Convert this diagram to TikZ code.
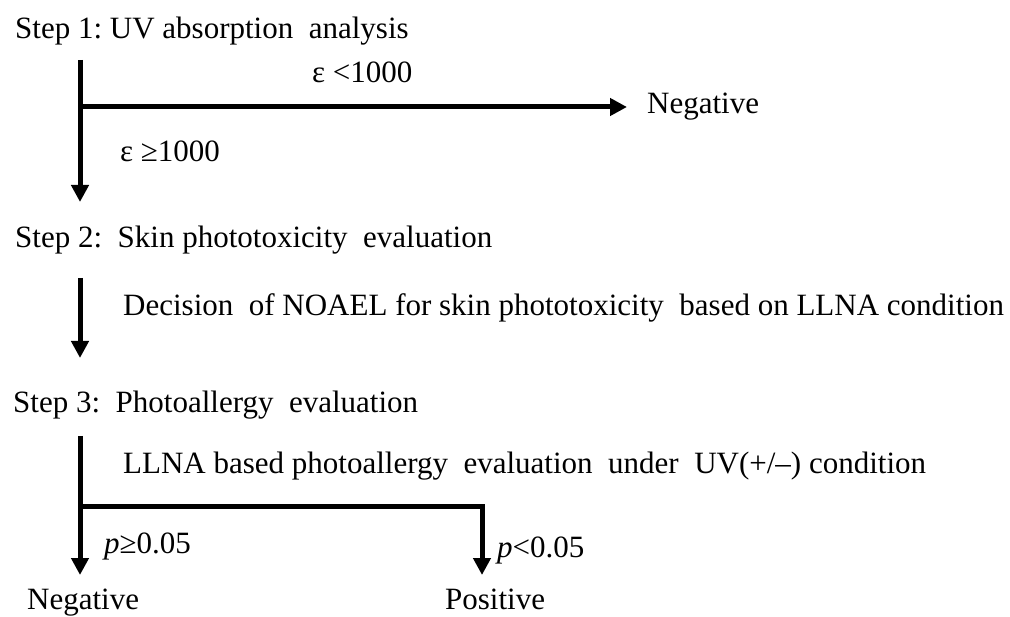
\documentclass[tikz,border=0pt]{standalone}
\usepackage{fontspec}
\setmainfont{Liberation Serif}
\usetikzlibrary{arrows.meta}

\tikzset{
  txt/.style={font=\fontsize{31}{36}\selectfont, inner sep=0pt, anchor=base west},
  flow/.style={line width=5pt, line join=miter, -{Triangle[length=17pt,width=17pt]}},
}

\begin{document}
\begin{tikzpicture}[x=1pt,y=-1pt]
  \useasboundingbox (0,0) rectangle (1010,617);
  % step 1
  \node[txt] (step1) at (15,39) {Step 1:\ UV absorption\ \ analysis};
  \node[txt] (lt1000) at (312,83) {ε <1000};
  \node[txt] (ge1000) at (120,162) {ε ≥1000};
  \node[txt] (neg1) at (647,114) {Negative};
  \coordinate (s1top) at (80,60);
  \coordinate (s1split) at (80,107);
  \coordinate (s1end) at (80,202);
  \draw[flow] (s1top) -- (s1end);
  \draw[flow] (s1split) -- ([xshift=-20pt]s1split -| neg1.west);
  % step 2
  \node[txt] (step2) at (15,248) {Step 2:\ \ Skin\ phototoxicity\ \ evaluation};
  \node[txt] (noael) at (123,316) {Decision\ \ of NOAEL for skin phototoxicity\ \ based on LLNA condition};
  \coordinate (s2top) at (80,278);
  \coordinate (s2end) at (80,358);
  \draw[flow] (s2top) -- (s2end);
  % step 3
  \node[txt] (step3) at (13,413) {Step 3:\ \ Photoallergy\ \ evaluation};
  \node[txt] (llna) at (123,474) {LLNA based photoallergy\ \ evaluation\ \ under\ \ UV(+/–)\ condition};
  \node[txt] (pge) at (104,553) {\textit{p}≥0.05};
  \node[txt] (plt) at (497,557) {\textit{p}<0.05};
  \node[txt] (neg3) at (27,609) {Negative};
  \node[txt] (pos) at (445,609) {Positive};
  \coordinate (s3top) at (80,436);
  \coordinate (s3split) at (80,507);
  \coordinate (s3end) at (80,575);
  \coordinate (s3right) at (482,507);
  \draw[flow] (s3top) -- (s3end);
  \draw[flow] (s3split) -- (s3right) -- (s3right |- s3end);
\end{tikzpicture}
\end{document}
